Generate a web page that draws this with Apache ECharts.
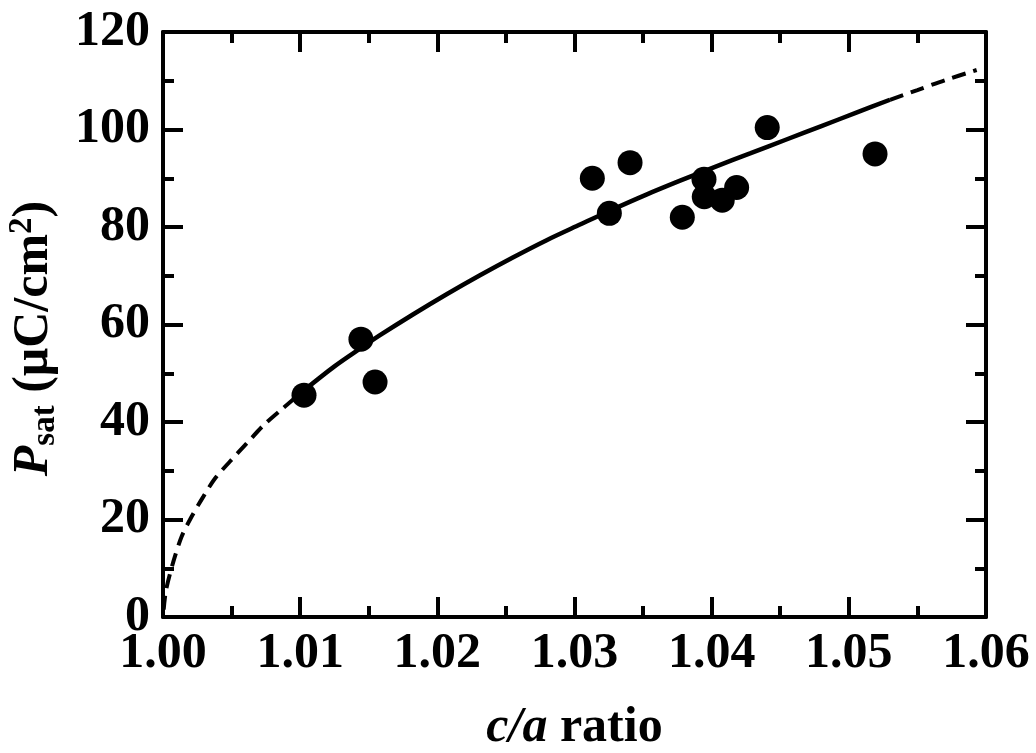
<!DOCTYPE html>
<html>
<head>
<meta charset="utf-8">
<script src="https://cdn.jsdelivr.net/npm/echarts@6/dist/echarts.min.js"></script>
<style>html,body{margin:0;padding:0;background:#fff;}#chart{width:1036px;height:753px;}</style>
</head>
<body>
<div id="chart"></div>
<script>
// Measured data points (c/a ratio, Psat)
const ptX = [1.01028, 1.01443, 1.01546, 1.03130, 1.03254, 1.03405, 1.03786, 1.03944, 1.03946, 1.04077, 1.04182, 1.04405, 1.05191];
const ptY = [45.5, 57.0, 48.2, 90.0, 82.8, 93.2, 82.0, 89.8, 86.2, 85.5, 88.1, 100.4, 95.0];

// Fit curve: dashed low part, solid part, dashed high part
const lowX = [1.00005, 1.00022, 1.00075, 1.00136, 1.00209, 1.00294, 1.00379, 1.00488, 1.00610, 1.00732, 1.00865, 1.01020];
const lowY = [1.5, 5.5, 11.3, 16.5, 20.6, 24.7, 28.4, 31.9, 35.6, 39.3, 42.6, 46.3];
const solidX = [1.01020, 1.01250, 1.01450, 1.01582, 1.01825, 1.02068, 1.02311, 1.02554, 1.02797, 1.03040, 1.03270, 1.03520, 1.03770, 1.04020, 1.04280, 1.04540, 1.04800, 1.05050, 1.05300];
const solidY = [46.3, 51.4, 55.3, 57.8, 62.1, 66.2, 70.1, 73.8, 77.3, 80.5, 83.5, 86.6, 89.5, 92.3, 95.1, 97.9, 100.7, 103.4, 106.1];
const highX = [1.05300, 1.05500, 1.05700, 1.05932];
const highY = [106.1, 108.1, 110.1, 112.2];

// Axis ticks
const xMin = 1.00, xMax = 1.06, xStep = 0.01;
const yMin = 0, yMax = 120, yStep = 20;

const pairs = (xs, ys) => xs.map((x, i) => [x, ys[i]]);

const chart = echarts.init(document.getElementById('chart'), null, {renderer: 'canvas'});
const FONT = 'Liberation Serif';
const axisLine = {show: true, onZero: false, lineStyle: {color: '#000', width: 4}};
const tickMaj = {show: true, inside: true, length: 20, lineStyle: {color: '#000', width: 4}};
const tickMin = {show: true, splitNumber: 2, length: 11, lineStyle: {color: '#000', width: 4}};

chart.setOption({
  animation: false,
  backgroundColor: '#fff',
  grid: {left: 163, right: 50, top: 32, bottom: 136, outerBoundsMode: 'none', containLabel: false},
  xAxis: [{
    type: 'value', min: xMin, max: xMax, interval: xStep, position: 'bottom',
    axisLine: axisLine, axisTick: tickMaj, minorTick: tickMin, splitLine: {show: false},
    axisLabel: {color: '#000', fontFamily: FONT, fontWeight: 'bold', fontSize: 50, margin: 12,
      formatter: v => v.toFixed(2)},
    name: '{i|c/a}{b| ratio}', nameLocation: 'middle', nameGap: 86,
    nameTextStyle: {rich: {
      i: {fontFamily: FONT, fontStyle: 'italic', fontWeight: 'bold', fontSize: 50, color: '#000'},
      b: {fontFamily: FONT, fontWeight: 'bold', fontSize: 50, color: '#000'}
    }}
  }, {
    type: 'value', min: xMin, max: xMax, interval: xStep, position: 'top',
    axisLine: axisLine, axisTick: tickMaj, minorTick: tickMin, splitLine: {show: false},
    axisLabel: {show: false}
  }],
  yAxis: [{
    type: 'value', min: yMin, max: yMax, interval: yStep, position: 'left',
    axisLine: axisLine, axisTick: tickMaj, minorTick: tickMin, splitLine: {show: false},
    axisLabel: {color: '#000', fontFamily: FONT, fontWeight: 'bold', fontSize: 50, margin: 13},
    name: '{p|P}{s|sat}{b| (μC/cm}{u|2}{b|)}', nameLocation: 'middle', nameGap: 81,
    nameTextStyle: {padding: [0, 28, 0, 0], rich: {
      p: {fontFamily: FONT, fontStyle: 'italic', fontWeight: 'bold', fontSize: 50, color: '#000', lineHeight: 60, verticalAlign: 'middle'},
      s: {fontFamily: FONT, fontWeight: 'bold', fontSize: 33, color: '#000', lineHeight: 60, verticalAlign: 'bottom', padding: [0, 0, 2, 0]},
      b: {fontFamily: FONT, fontWeight: 'bold', fontSize: 50, color: '#000', lineHeight: 60, verticalAlign: 'middle'},
      u: {fontFamily: FONT, fontWeight: 'bold', fontSize: 33, color: '#000', lineHeight: 60, verticalAlign: 'top', padding: [2, 0, 0, 0]}
    }}
  }, {
    type: 'value', min: yMin, max: yMax, interval: yStep, position: 'right',
    axisLine: axisLine, axisTick: tickMaj, minorTick: tickMin, splitLine: {show: false},
    axisLabel: {show: false}
  }],
  series: [
    {type: 'line', data: pairs(lowX, lowY), showSymbol: false, smooth: 0.3, silent: true,
      lineStyle: {color: '#000', width: 4, type: [14, 8]}},
    {type: 'line', data: pairs(solidX, solidY), showSymbol: false, smooth: 0.3, silent: true,
      lineStyle: {color: '#000', width: 4.5, type: 'solid'}},
    {type: 'line', data: pairs(highX, highY), showSymbol: false, smooth: 0.3, silent: true,
      lineStyle: {color: '#000', width: 4, type: [14, 8]}},
    {type: 'scatter', data: pairs(ptX, ptY), symbol: 'circle', symbolSize: 25,
      itemStyle: {color: '#000', opacity: 1}, z: 5}
  ]
});
</script>
</body>
</html>
